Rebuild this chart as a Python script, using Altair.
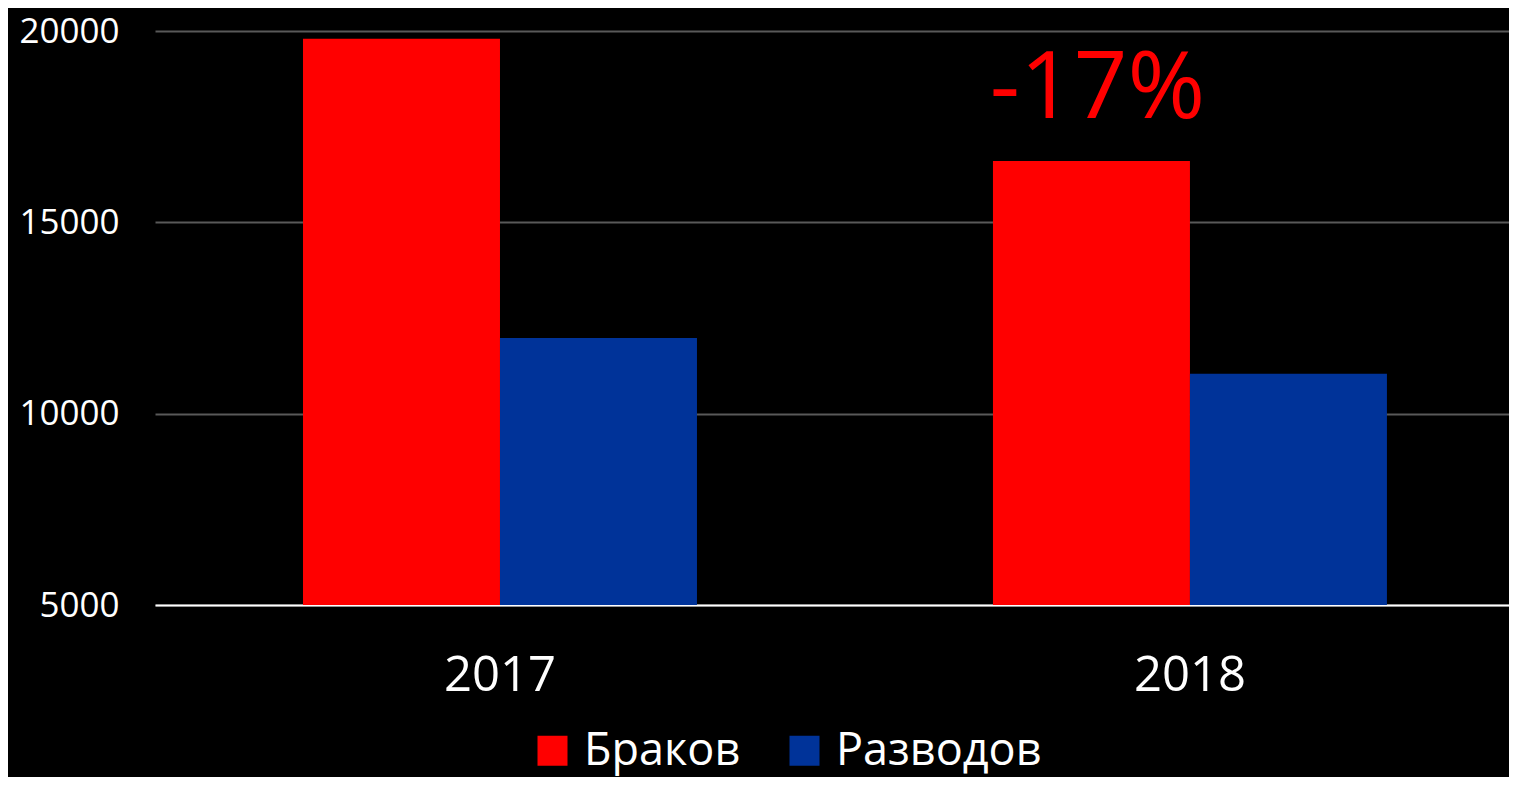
import altair as alt
import pandas as pd

years = ["2017", "2018"]
series = ["Браков", "Разводов"]
brakov = [19800, 16600]
razvodov = [11980, 11040]
colors = ["#FF0000", "#003399"]
y_ticks = [5000, 10000, 15000, 20000]
annotation = "-17%"

rows = []
for i, y in enumerate(years):
    rows.append({"year": y, "series": series[0], "value": brakov[i]})
    rows.append({"year": y, "series": series[1], "value": razvodov[i]})
df = pd.DataFrame(rows)

ann_df = pd.DataFrame([{"year": years[1], "series": series[0], "value": brakov[1], "label": annotation}])

FONT = "Open Sans"

x_enc = alt.X(
    "year:N",
    sort=years,
    scale=alt.Scale(paddingInner=0.429, paddingOuter=0.1957, align=0.548),
    axis=alt.Axis(
        title=None, labelAngle=0, labelFontSize=49, labelColor="white", labelFont=FONT,
        ticks=False, domainColor="white", domainWidth=2, labelPadding=46, grid=False,
    ),
)
xoff_enc = alt.XOffset("series:N", sort=series, scale=alt.Scale(domain=series, paddingInner=0, paddingOuter=0))
y_enc = alt.Y(
    "value:Q",
    scale=alt.Scale(domain=[5000, 20000], nice=False, zero=False),
    axis=alt.Axis(
        values=y_ticks, format="d", title=None, labelFontSize=35, labelColor="white",
        labelFont=FONT, domain=False, ticks=False, labelPadding=36,
        gridColor="#595959", gridWidth=2,
    ),
)

bars = alt.Chart(df).mark_bar().encode(
    x=x_enc,
    xOffset=xoff_enc,
    y=y_enc,
    y2=alt.datum(5000),
    color=alt.Color(
        "series:N",
        sort=series,
        scale=alt.Scale(domain=series, range=colors),
        legend=alt.Legend(
            title=None, orient="none", legendX=375, legendY=697, direction="horizontal",
            labelFontSize=45, labelColor="white", labelFont=FONT, labelLimit=400,
            symbolType="square", symbolSize=900, symbolStrokeWidth=0, symbolOpacity=1,
            labelOffset=9, columnPadding=41, padding=0,
        ),
    ),
)

text = alt.Chart(ann_df).mark_text(
    font=FONT, fontSize=94, color="#FF0000", baseline="alphabetic", align="center", dy=-43, dx=6
).encode(
    x=alt.X("year:N", sort=years),
    xOffset=alt.XOffset("series:N", sort=series),
    y=alt.Y("value:Q"),
    text="label:N",
)

chart = (
    alt.layer(bars, text)
    .properties(
        width=1354, height=574,
        padding={"left": 147, "top": 23, "right": 0, "bottom": 172},
        autosize=alt.AutoSizeParams(type="none"),
    )
    .configure(background="black")
    .configure_view(stroke=None)
)

chart.save("out.html", embed_options={"renderer": "svg", "actions": False})
